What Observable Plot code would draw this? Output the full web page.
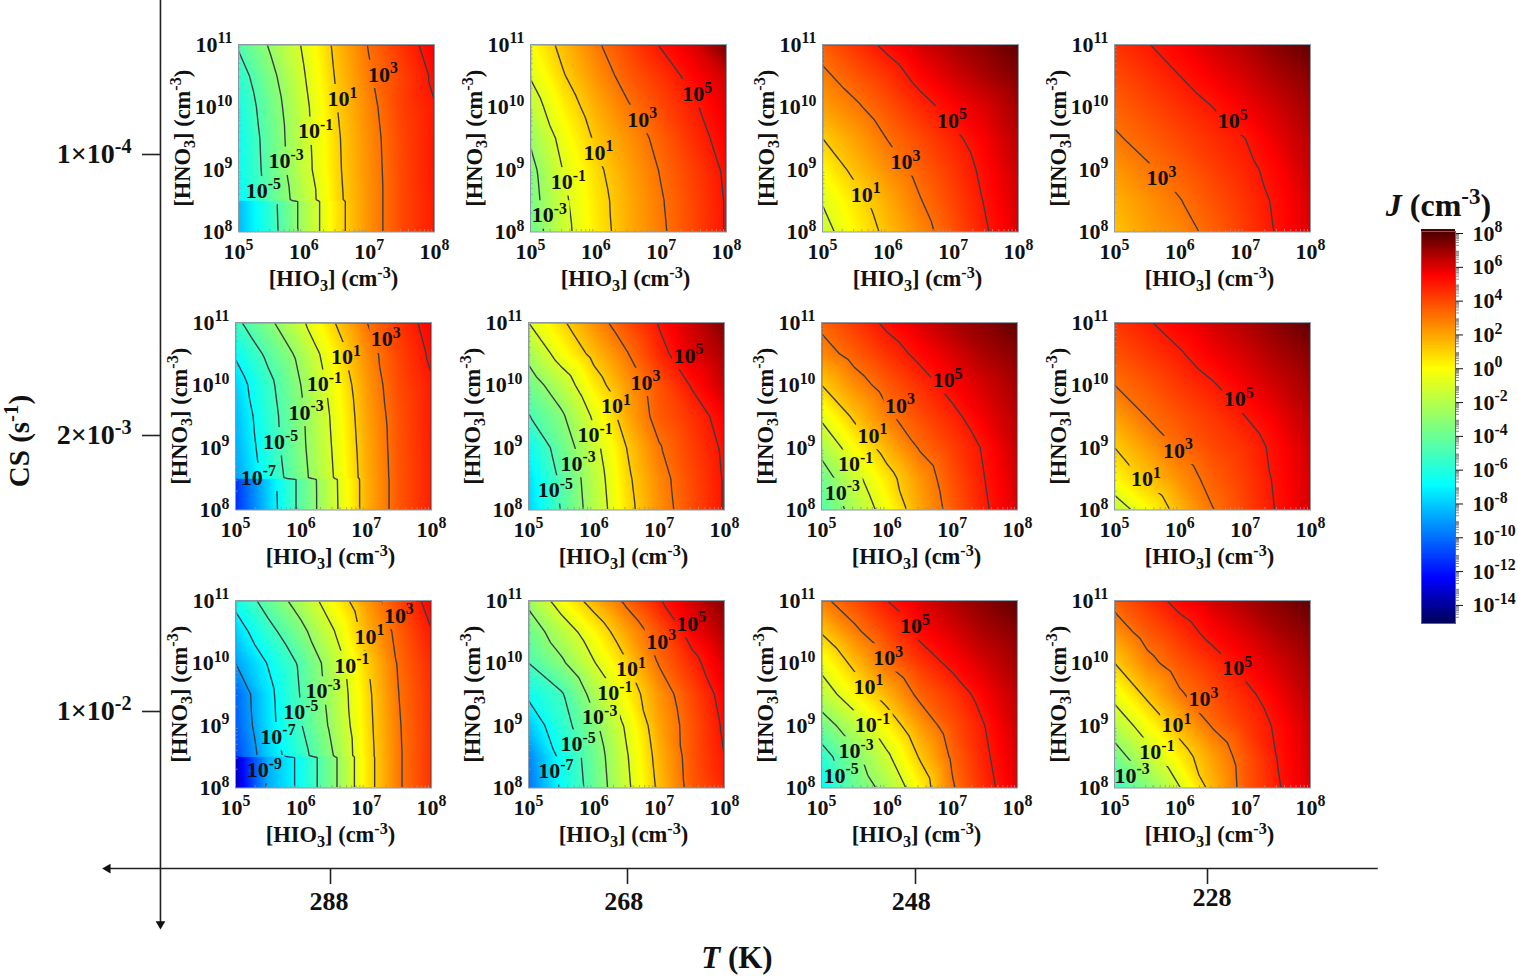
<!DOCTYPE html>
<html><head><meta charset="utf-8">
<script src="https://cdn.jsdelivr.net/npm/d3@7"></script>
<script src="https://cdn.jsdelivr.net/npm/@observablehq/plot@0.6"></script>
<style>
html,body{margin:0;background:#fff}
#root{position:relative;width:1518px;height:976px;overflow:hidden}
#root svg{position:absolute;overflow:visible;background:transparent}
</style></head><body><div id="root"></div>
<script>
// ---------- data: log10 J ----------
const logHIO3 = [5, 5.5, 6, 6.5, 7, 7.5, 8];
const logHNO3plain = [8, 8.5, 9, 9.5, 10, 10.5, 11];
const logHNO3step = [8, 8.49, 8.51, 9, 9.5, 10, 10.5, 11];
const exponentTicksX = [5, 6, 7, 8];
const exponentTicksY = [8, 9, 10, 11];
const temperatures = [288, 268, 248, 228];
const temperatureLabelAt = [288.1, 268.25, 248.3, 227.7];
const csLabels = ["1×10^{-4}", "2×10^{-3}", "1×10^{-2}"];
const legendTicks = [-14, -12, -10, -8, -6, -4, -2, 0, 2, 4, 6, 8];

const J_288_A = [
 [-8.5,-5.7,-2.4,.5,2.35,3.9,4.9],[-8.4,-5.6,-2.4,.5,2.35,3.9,4.9],[-7,-4.4,-2,.65,2.35,3.9,4.9],
 [-6.8,-4.2,-1.6,.75,2.4,3.9,5],[-6.7,-4.1,-1.5,.8,2.45,3.95,5],[-6.4,-3.85,-1.4,.95,2.6,4.1,4.95],
 [-5.8,-3.4,-1.1,1.15,2.85,4.05,5.2],[-4.8,-2.75,-.8,1.35,3.1,4.4,5.55]];
const J_268_A = [
 [-4,-1.5,.35,1.7,2.8,3.95,5.1],[-3.7,-1.3,.45,1.75,2.9,4,5.1],[-3.5,-.95,.7,1.95,3.1,4.15,5.2],
 [-2.8,-.45,1.2,2.3,3.4,4.5,5.5],[-1.8,.2,1.7,2.9,3.9,4.85,5.8],[-.9,.9,2.3,3.5,4.4,5.4,6.2],
 [-.2,1.4,2.8,4,5.1,6,7.5]];
const J_248_A = [
 [-1.6,.05,1.35,2.5,3.7,4.9,6],[-.9,.5,1.75,2.95,4,5.1,6.1],[0,1.35,2.4,3.4,4.3,5.3,6.3],
 [1,2,3.05,3.9,4.75,5.6,6.5],[2,2.8,3.7,4.6,5.4,6,6.8],[2.75,3.6,4.4,5.4,6.1,6.7,7.3],
 [3.5,4.4,5.3,6.1,6.7,7.2,7.8]];
const J_228_A = [
 [1.2,2,2.5,3.35,4.2,5.1,6],[1.6,2.3,2.95,3.7,4.4,5.2,6.1],[2.2,2.85,3.45,4.1,4.7,5.4,6.3],
 [2.85,3.4,3.95,4.5,5,5.8,6.5],[3.35,3.9,4.45,5,5.6,6.2,6.8],[3.85,4.4,5,5.6,6.1,6.7,7.2],
 [4.4,4.95,5.5,6.1,6.6,7.2,7.8]];
const J_288_B = [
 [-11.5,-8,-4.5,-1.4,1.6,3.6,4.8],[-11.4,-7.9,-4.5,-1.35,1.6,3.6,4.8],[-9,-6.3,-3.6,-1,1.65,3.6,4.8],
 [-8.7,-6,-3.4,-.85,1.75,3.65,4.85],[-8.4,-5.8,-3.3,-.7,1.9,3.7,4.9],[-7.9,-5.5,-3,-.4,2.1,3.85,4.9],
 [-6.8,-4.6,-2.5,.1,2.4,4,5.2],[-5.4,-3.4,-1.3,.9,2.95,4.3,5.5]];
const J_268_B = [
 [-8,-4.9,-2.1,.5,2.35,3.8,5.1],[-7.7,-4.7,-1.9,.7,2.5,3.9,5.1],[-6.8,-4.1,-1.5,1,2.9,4.1,5.2],
 [-5.1,-3.3,-.75,1.75,3.5,4.4,5.5],[-3.9,-2,.33,2.1,3.7,5.1,6.3],[-2.5,-.3,1.4,2.9,4.6,5.9,6.7],
 [-1,.75,2.35,3.8,5.1,6.2,7.3]];
const J_248_B = [
 [-4.7,-2.3,-.3,1.85,3.45,4.85,6],[-4,-1.5,.45,2.2,3.7,5,6.1],[-2.4,-.1,1.6,3.1,4.1,5.15,6.3],
 [-.7,1.25,2.75,3.8,4.7,5.7,6.5],[1,2.4,3.5,4.45,5.4,6.1,6.8],[2.45,3.45,4.4,5.3,6,6.7,7.2],
 [3.3,4.25,5.25,6,6.7,7.2,7.8]];
const J_228_B = [
 [-1.9,-.15,1.5,2.95,4,5.1,6.1],[0,1.25,2.35,3.4,4.2,5.2,6.1],[1,2.1,3.15,3.9,4.45,5.3,6.2],
 [2,3.05,3.7,4.3,5,5.7,6.5],[3,3.6,4.3,4.9,5.6,6.2,6.8],[3.7,4.3,4.9,5.6,6.1,6.7,7.2],
 [4.3,4.9,5.5,6.1,6.6,7.2,7.8]];
const J_288_C = [
 [-13.6,-8.7,-6.6,-3.4,.35,2.85,4.4],[-13.4,-8.7,-6.6,-3.4,.35,2.85,4.4],[-11,-8,-5.7,-3,.4,2.85,4.4],
 [-10.5,-7.6,-5.1,-2.55,.5,2.9,4.4],[-10.3,-7.5,-4.9,-2.3,.6,3,4.45],[-9,-6.9,-4.7,-2,.85,3.15,4.6],
 [-7.9,-5.6,-3.5,-1.1,1.55,3.4,4.95],[-6.5,-4.2,-2.2,0,2.1,3.95,5.5]];
const J_268_C = [
 [-10,-6.8,-4.2,-1.35,1.3,3.5,4.7],[-9.6,-6.6,-4,-1.15,1.55,3.6,5],[-8.2,-5.8,-3.4,-.75,1.9,3.65,5.2],
 [-6.7,-5.2,-2.4,.05,2.25,3.9,5.5],[-5,-3.3,-1.1,.9,3.1,4.6,6],[-4,-2,0,1.95,3.7,5.5,6.6],
 [-2.6,-.2,1.6,3.3,4.9,6.1,7.2]];
const J_248_C = [
 [-7,-4.2,-2.4,0,2.85,4.6,5.8],[-5.8,-3.5,-1.3,1.1,3.2,4.8,6],[-3.9,-1.9,.1,2.1,3.7,5,6.2],
 [-1.9,0,1.6,3.3,4.3,5.5,6.4],[-.5,1.35,3.05,4.3,5.3,6.1,6.8],[1.1,2.7,4,5.3,6,6.7,7.2],
 [2.7,3.8,5,5.9,6.6,7.2,7.8]];
const J_228_C = [
 [-5.5,-3.4,-1.05,1.5,3.5,4.9,6],[-3.8,-1.7,.3,2,3.6,5.05,6.1],[-2.1,-.2,1.55,3.1,4.2,5.2,6.2],
 [-.5,1.3,2.85,3.8,4.7,5.6,6.5],[1,2.6,3.65,4.5,5.4,6.1,6.8],[2.3,3.55,4.45,5.4,6,6.7,7.2],
 [3.4,4.4,5.4,6.1,6.7,7.2,7.8]];

// contour labels: [log HIO3, log HNO3, exponent]
const L_288_A = [[5.38,8.66,-5],[5.73,9.13,-3],[6.18,9.61,-1],[6.59,10.13,1],[7.21,10.52,3]];
const L_268_A = [[5.29,8.27,-3],[5.58,8.8,-1],[6.04,9.27,1],[6.71,9.8,3],[7.55,10.21,5]];
const L_248_A = [[5.66,8.6,1],[6.27,9.12,3],[6.98,9.78,5]];
const L_228_A = [[5.72,8.86,3],[6.81,9.77,5]];
const L_288_B = [[5.35,8.52,-7],[5.69,9.09,-5],[6.08,9.56,-3],[6.36,10.01,-1],[6.69,10.45,1],[7.3,10.73,3]];
const L_268_B = [[5.41,8.32,-5],[5.76,8.74,-3],[6.02,9.2,-1],[6.34,9.66,1],[6.79,10.04,3],[7.45,10.47,5]];
const L_248_B = [[5.32,8.28,-3],[5.52,8.73,-1],[5.78,9.19,1],[6.2,9.67,3],[6.93,10.08,5]];
const L_228_B = [[5.48,8.49,1],[5.97,8.95,3],[6.9,9.77,5]];
const L_288_C = [[5.44,8.29,-9],[5.65,8.82,-7],[6,9.21,-5],[6.34,9.55,-3],[6.78,9.96,-1],[7.05,10.42,1],[7.5,10.76,3]];
const L_268_C = [[5.42,8.27,-7],[5.76,8.7,-5],[6.09,9.13,-3],[6.32,9.52,-1],[6.57,9.9,1],[7.03,10.34,3],[7.49,10.63,5]];
const L_248_C = [[5.3,8.2,-5],[5.53,8.59,-3],[5.78,9.01,-1],[5.72,9.62,1],[6.02,10.08,3],[6.43,10.59,5]];
const L_228_C = [[5.27,8.2,-3],[5.65,8.57,-1],[5.95,9.01,1],[6.36,9.42,3],[6.88,9.92,5]];

// contour levels drawn in each panel
const levels5 = [-5,-3,-1,1,3,5], levels3 = [-3,-1,1,3,5], levels1 = [-1,1,3,5], levels7 = [-7,-5,-3,-1,1,3,5], levels9 = [-9,-7,-5,-3,-1,1,3,5], levelsHi = [3,5];

// ---------- layout (frame positions on the page) ----------
const panels = [
 {J:J_288_A,L:L_288_A,lv:levels5,rows:logHNO3step,left:238,top:44},
 {J:J_268_A,L:L_268_A,lv:levels3,rows:logHNO3plain,left:530,top:44},
 {J:J_248_A,L:L_248_A,lv:levels1,rows:logHNO3plain,left:822,top:44},
 {J:J_228_A,L:L_228_A,lv:levelsHi,rows:logHNO3plain,left:1114,top:44},
 {J:J_288_B,L:L_288_B,lv:levels7,rows:logHNO3step,left:235,top:322},
 {J:J_268_B,L:L_268_B,lv:levels5,rows:logHNO3plain,left:528,top:322},
 {J:J_248_B,L:L_248_B,lv:levels3,rows:logHNO3plain,left:821,top:322},
 {J:J_228_B,L:L_228_B,lv:levels1,rows:logHNO3plain,left:1114,top:322},
 {J:J_288_C,L:L_288_C,lv:levels9,rows:logHNO3step,left:235,top:600},
 {J:J_268_C,L:L_268_C,lv:levels7,rows:logHNO3plain,left:528,top:600},
 {J:J_248_C,L:L_248_C,lv:levels5,rows:logHNO3plain,left:821,top:600},
 {J:J_228_C,L:L_228_C,lv:levels3,rows:logHNO3plain,left:1114,top:600}
];
const jet = {
  type:"linear", clamp:true,
  domain:[-15,-12.47,-6.95,-3.5,-0.05,5.47,8],
  range:["#000060","#0000ff","#00ffff","#7fff7f","#ffff00","#ff0000","#500000"]
};
const FONT = "'Liberation Serif','Times New Roman',serif";
const root = document.getElementById("root");
let maskId = 0;

function rich(svg){
  const NS = "http://www.w3.org/2000/svg";
  svg.querySelectorAll("text").forEach(t=>{
    const s = t.textContent;
    if(!/[\^_*]/.test(s)) return;
    const fs = parseFloat(getComputedStyle(t).fontSize);
    while(t.firstChild) t.removeChild(t.firstChild);
    let shift = 0;
    for(const m of s.matchAll(/\^\{([^}]*)\}|_\{([^}]*)\}|\*([^*]+)\*|[^\^_*]+/g)){
      const sp = document.createElementNS(NS,"tspan");
      let target = 0;
      if(m[1]!==undefined){ sp.textContent=m[1]; sp.setAttribute("font-size",fs*0.72); target=-0.38*fs; }
      else if(m[2]!==undefined){ sp.textContent=m[2]; sp.setAttribute("font-size",fs*0.72); target=0.22*fs; }
      else if(m[3]!==undefined){ sp.textContent=m[3]; sp.setAttribute("font-style","italic"); }
      else sp.textContent=m[0];
      if(target!==shift){ sp.setAttribute("dy",target-shift); shift=target; }
      t.appendChild(sp);
    }
  });
}

function hideLinesUnderLabels(svg, w, h, ml, mt){
  const NS = "http://www.w3.org/2000/svg";
  const g = svg.querySelector(".clines");
  if(!g) return;
  const id = "m"+(maskId++);
  const mask = document.createElementNS(NS,"mask");
  mask.setAttribute("id",id);
  mask.setAttribute("maskUnits","userSpaceOnUse");
  const b = svg.getBoundingClientRect();
  ["x","y","width","height"].forEach((a,i)=>mask.setAttribute(a,[0,0,b.width,b.height][i]));
  const add=(x,y,W,H,c)=>{const r=document.createElementNS(NS,"rect");
    r.setAttribute("x",x);r.setAttribute("y",y);r.setAttribute("width",W);r.setAttribute("height",H);r.setAttribute("fill",c);mask.appendChild(r);};
  add(ml+1,mt+1,w-2,h-2,"#fff");
  svg.querySelectorAll(".clabels text").forEach(t=>{
    const r=t.getBoundingClientRect();
    add(r.left-b.left-2,r.top-b.top,r.width+4,r.height+1,"#000");
  });
  svg.appendChild(mask);
  g.setAttribute("mask",`url(#${id})`);
}

// ---------- outer T / CS frame ----------
const overlay = Plot.plot({
  width:1518,height:976,marginLeft:0,marginRight:0,marginTop:0,marginBottom:0,
  style:{font:`bold 27px ${FONT}`,color:"#111",background:"transparent"},
  x:{type:"linear",domain:temperatures,range:[330,627,915,1207],axis:null},
  y:{type:"linear",domain:[0,1,2],range:[154,435,711],axis:null},
  marks:[
    Plot.ruleY([2.569],{x1:216.3,x2:303,stroke:"#222",strokeWidth:1.6}),
    Plot.ruleX([299.45],{y1:-0.55,y2:2.77,stroke:"#222",strokeWidth:1.6}),
    Plot.ruleX(temperatures,{x:d=>d,y1:2.569,y2:2.627,stroke:"#222",strokeWidth:1.6}),
    Plot.ruleY([0,1,2],{y:d=>d,x1:300.66,x2:299.45,stroke:"#222",strokeWidth:1.6}),
    Plot.dot([0],{x:()=>303,y:()=>2.569,symbol:"triangle",rotate:-90,r:3.6,fill:"#111"}),
    Plot.dot([0],{x:()=>299.45,y:()=>2.77,symbol:"triangle",rotate:180,r:3.6,fill:"#111"}),
    Plot.text(temperatures,{x:(d,i)=>temperatureLabelAt[i],y:(d,i)=>i===3?2.675:2.688,text:d=>String(d),fontSize:26}),
    Plot.text(csLabels,{x:()=>301.4,y:(d,i)=>i,text:d=>d,textAnchor:"end",fontSize:28}),
    Plot.text(["CS (s^{-1})"],{x:()=>308.95,y:()=>1.02,text:d=>d,rotate:-90,fontSize:29}),
    Plot.text(["*T* (K)"],{x:()=>260.4,y:()=>2.895,text:d=>d,fontSize:31})
  ]
});
root.appendChild(overlay);
overlay.style.left="0px";overlay.style.top="0px";
rich(overlay);

// ---------- panels ----------
const PW=196,PH=187.5,ML=70,MR=40,MT=20,MB=70;
const minorX = d3.range(5,8).flatMap(e=>d3.range(2,10).map(k=>k*10**e));
const minorY = d3.range(8,11).flatMap(e=>d3.range(2,10).map(k=>k*10**e));
panels.forEach(p=>{
  const pts = p.rows.flatMap((r,i)=>logHIO3.map((c,j)=>({x:10**c,y:10**r,v:p.J[i][j]})));
  const chart = Plot.plot({
    width:PW+ML+MR,height:PH+MT+MB,marginLeft:ML,marginRight:MR,marginTop:MT,marginBottom:MB,
    style:{font:`bold 22px ${FONT}`,color:"#111",background:"transparent"},
    x:{type:"log",domain:[1e5,1e8]},
    y:{type:"log",domain:[1e8,1e11]},
    color:jet,
    marks:[
      Plot.raster(pts,{x:"x",y:"y",fill:"v",interpolate:"barycentric",pixelSize:1}),
      Plot.contour(pts,{x:"x",y:"y",value:"v",thresholds:p.lv,interpolate:"barycentric",pixelSize:1,
        stroke:"#3c3c46",strokeWidth:1.4,fill:"none",className:"clines"}),
      Plot.frame({stroke:"#8e9aa6",strokeWidth:1}),
      Plot.axisX({ticks:exponentTicksX.map(e=>10**e),tickSize:0,tickPadding:11,tickFormat:d=>`10^{${Math.round(Math.log10(d))}}`,label:null}),
      Plot.axisY({ticks:exponentTicksY.map(e=>10**e),tickSize:0,tickPadding:6,tickFormat:d=>`10^{${Math.round(Math.log10(d))}}`,label:null}),
      Plot.tickX(minorX,{x:d=>d,frameAnchor:"bottom",insetTop:PH-2.5,stroke:"#8e9aa6",strokeWidth:.8}),
      Plot.tickY(minorY,{y:d=>d,insetRight:PW-2.5,stroke:"#8e9aa6",strokeWidth:.8}),
      Plot.text(p.L,{x:d=>10**d[0],y:d=>10**d[1],text:d=>`10^{${d[2]}}`,fontSize:22,className:"clabels"}),
      Plot.text(["[HIO_{3}] (cm^{-3})"],{frameAnchor:"bottom",lineAnchor:"middle",dy:47,dx:-3,text:d=>d,fontSize:22.5}),
      Plot.text(["[HNO_{3}] (cm^{-3})"],{frameAnchor:"left",textAnchor:"middle",dx:-56,text:d=>d,rotate:-90,fontSize:22.5})
    ]
  });
  root.appendChild(chart);
  chart.style.left=(p.left-ML)+"px";chart.style.top=(p.top-MT)+"px";
  rich(chart);
  hideLinesUnderLabels(chart,PW,PH,ML,MT);
});

// ---------- colour bar ----------
const lvls = d3.range(-15.1,8.12,0.1);
const legendMinor = d3.range(-15,8).flatMap(e=>d3.range(2,10).map(k=>e+Math.log10(k)));
const legend = Plot.plot({
  width:34+50+80,height:392+50+10,marginLeft:50,marginRight:80,marginTop:50,marginBottom:10,
  style:{font:`bold 22px ${FONT}`,color:"#111",background:"transparent"},
  x:{domain:[0,1],axis:null},
  y:{domain:[-15.07,8.12],axis:null},
  color:jet,
  marks:[
    Plot.rect(lvls,{x1:()=>0,x2:()=>1,y1:d=>d,y2:d=>d+0.11,fill:d=>d,shapeRendering:"crispEdges"}),
    Plot.frame({stroke:"#666",strokeWidth:1}),
    Plot.axisY(legendMinor,{anchor:"right",tickSize:3,text:null,label:null,stroke:"#555",strokeWidth:.7}),
    Plot.axisY(legendTicks,{anchor:"right",tickSize:7,tickPadding:10,tickFormat:d=>`10^{${d}}`,label:null}),
    Plot.text(["*J* (cm^{-3})"],{frameAnchor:"top",lineAnchor:"middle",dy:-26,text:d=>d,fontSize:32})
  ]
});
root.appendChild(legend);
legend.style.left=(1421-50)+"px";legend.style.top=(231-50)+"px";
rich(legend);
</script></body></html>
